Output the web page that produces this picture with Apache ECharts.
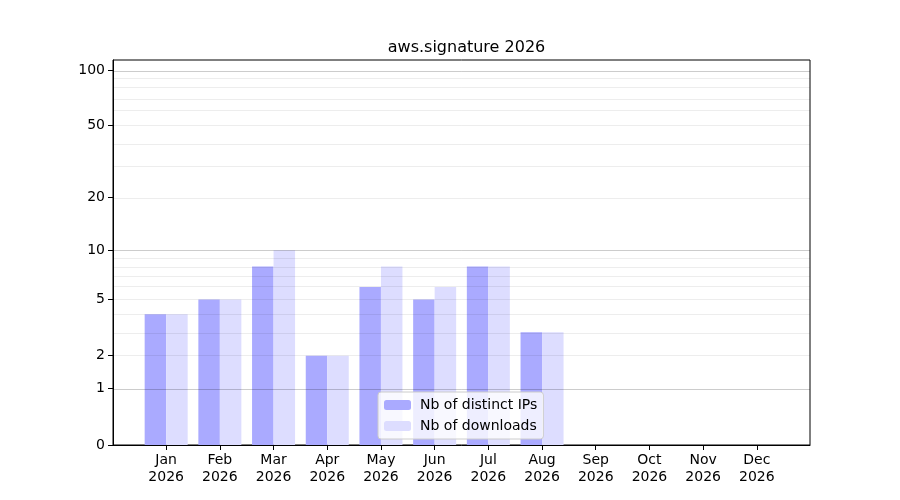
<!DOCTYPE html>
<html>
<head>
    <meta charset="UTF-8">
    <script src="https://cdn.jsdelivr.net/npm/echarts@6/dist/echarts.min.js"></script>
    <title>aws.signature 2026</title>
    <style>
        html, body { margin: 0; padding: 0; background: #fff; }
        #box { width: 900px; height: 500px; }
    </style>
</head>
<body>
    <div id="box"></div>
    <script>
        // data
        var months = ['Jan', 'Feb', 'Mar', 'Apr', 'May', 'Jun', 'Jul', 'Aug', 'Sep', 'Oct', 'Nov', 'Dec'];
        var year = '2026';
        var distinctIPs = [4, 5, 8, 2, 6, 5, 8, 3, 0, 0, 0, 0];
        var downloads = [4, 5, 10, 2, 8, 6, 8, 3, 0, 0, 0, 0];
        var yTicks = [0, 1, 2, 5, 10, 20, 50, 100];
        var majorGrid = [1, 10, 100];
        var minorGrid = [2, 3, 4, 5, 6, 7, 8, 9, 20, 30, 40, 50, 60, 70, 80, 90];

        // log(1+x) scale, like the original plot
        function fwd(v) { return Math.log10(1 + v); }
        function inv(t) { return Math.pow(10, t) - 1; }

        var font = 'DejaVu Sans';
        var mychart = echarts.init(document.getElementById('box'));

        function toPairs(arr) {
            return arr.map(function (v, i) { return [i, fwd(v)]; });
        }
        function gridLines(vals) {
            return vals.map(function (v) { return { yAxis: fwd(v) }; });
        }

        var option = {
            animation: false,
            textStyle: { fontFamily: font },
            title: {
                text: 'aws.signature ' + year,
                left: 461.5,
                textAlign: 'center',
                top: 35,
                textStyle: { fontFamily: font, fontSize: 16, fontWeight: 'normal', color: '#000' }
            },
            grid: {
                left: 113, right: 90, top: 60, bottom: 55,
                show: true, borderColor: '#000', borderWidth: 1,
                containLabel: false
            },
            legend: {
                orient: 'vertical',
                left: 378,
                top: 392,
                itemWidth: 27,
                itemHeight: 10,
                itemGap: 7,
                padding: [6, 6, 6, 6],
                backgroundColor: 'rgba(255,255,255,0.8)',
                borderColor: '#cccccc',
                borderWidth: 1,
                borderRadius: 3,
                data: ['Nb of distinct IPs', 'Nb of downloads'],
                textStyle: { fontFamily: font, fontSize: 14, color: '#000', padding: [0, 0, 0, 4] }
            },
            xAxis: {
                type: 'value',
                min: -0.99,
                max: 11.99,
                splitLine: { show: false },
                axisLine: { show: true, onZero: false, lineStyle: { color: '#000' } },
                axisTick: {
                    show: true, inside: false, length: 5,
                    customValues: months.map(function (m, i) { return i; }),
                    lineStyle: { color: '#000' }
                },
                axisLabel: {
                    customValues: months.map(function (m, i) { return i; }),
                    formatter: function (v) { return months[Math.round(v)] + '\n' + year; },
                    fontFamily: font, fontSize: 14, color: '#000', lineHeight: 17, margin: 7
                }
            },
            yAxis: {
                type: 'value',
                min: 0,
                max: 2.058,
                splitLine: { show: false },
                axisLine: { show: true, onZero: false, lineStyle: { color: '#000' } },
                axisTick: {
                    show: true, inside: false, length: 5,
                    customValues: yTicks.map(fwd),
                    lineStyle: { color: '#000' }
                },
                axisLabel: {
                    customValues: yTicks.map(fwd),
                    formatter: function (t) { return String(Math.round(inv(t))); },
                    fontFamily: font, fontSize: 14, color: '#000', margin: 8
                }
            },
            series: [
                {
                    name: 'Nb of distinct IPs',
                    type: 'bar',
                    z: 2,
                    barWidth: 21.5,
                    barGap: '0%',
                    itemStyle: { color: '#aaaaff', borderWidth: 0 },
                    data: toPairs(distinctIPs)
                },
                {
                    name: 'Nb of downloads',
                    type: 'bar',
                    z: 2,
                    barWidth: 21.5,
                    barGap: '0%',
                    itemStyle: { color: '#ddddff', borderWidth: 0 },
                    data: toPairs(downloads)
                },
                {
                    name: 'gridMinor',
                    type: 'line',
                    data: [],
                    z: 3,
                    silent: true,
                    markLine: {
                        silent: true,
                        symbol: 'none',
                        label: { show: false },
                        lineStyle: { type: 'solid', color: 'rgba(0,0,0,0.07)', width: 1 },
                        data: gridLines(minorGrid)
                    }
                },
                {
                    name: 'gridMajor',
                    type: 'line',
                    data: [],
                    z: 3,
                    silent: true,
                    markLine: {
                        silent: true,
                        symbol: 'none',
                        label: { show: false },
                        lineStyle: { type: 'solid', color: 'rgba(0,0,0,0.2)', width: 1 },
                        data: gridLines(majorGrid)
                    }
                }
            ]
        };

        mychart.setOption(option);
    </script>
</body>
</html>
